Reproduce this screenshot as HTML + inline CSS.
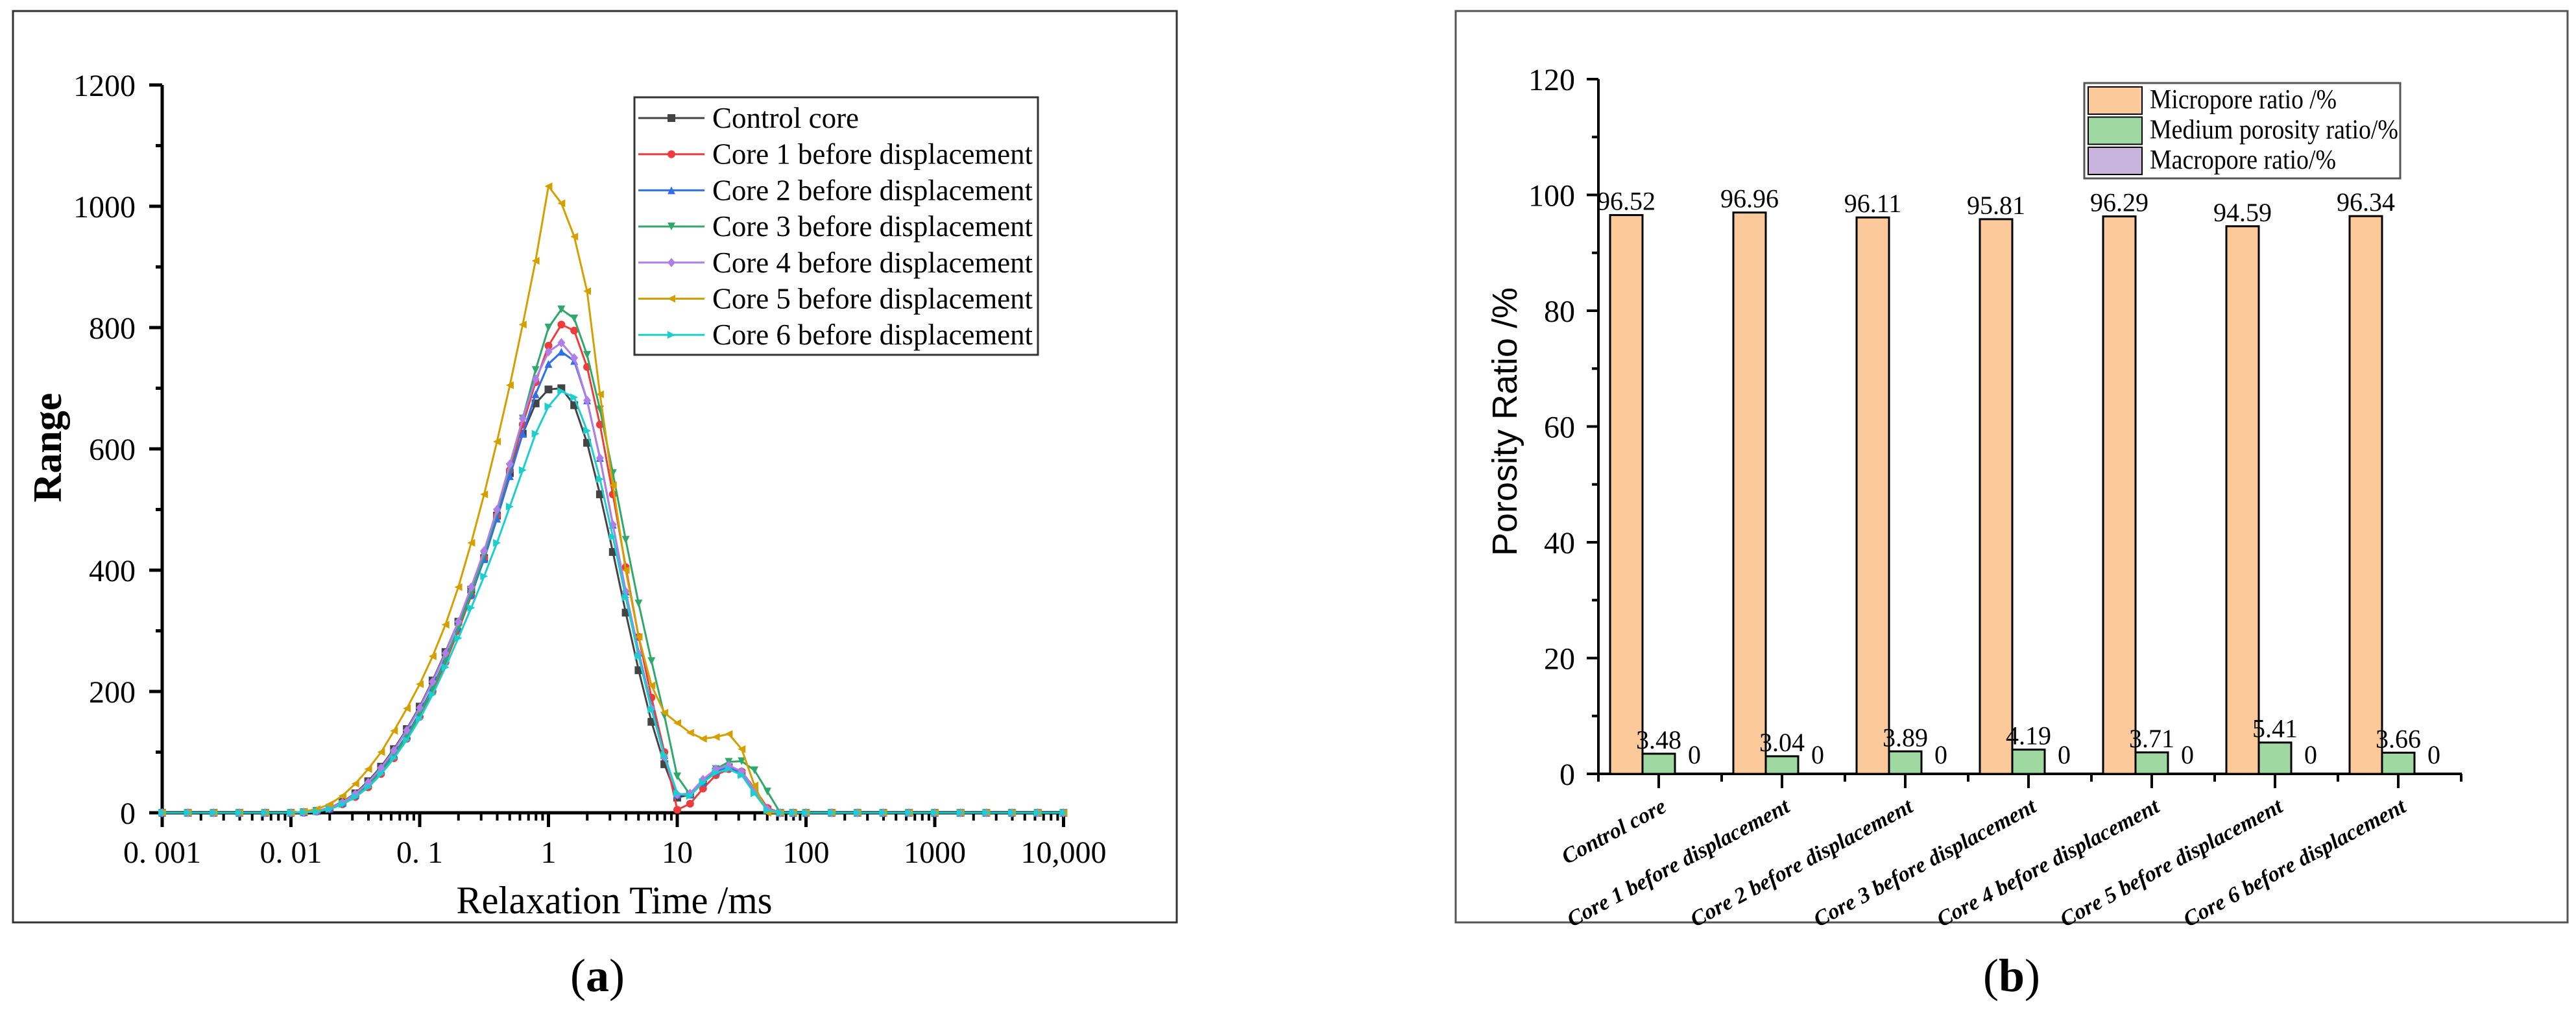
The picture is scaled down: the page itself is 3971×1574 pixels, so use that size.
<!DOCTYPE html>
<html><head><meta charset="utf-8"><style>
html,body{margin:0;padding:0;background:#fff;}
svg{display:block;}
text{font-family:"Liberation Serif",serif;fill:#000;}
</style></head><body>
<svg id="fig" width="3971" height="1574" viewBox="0 0 3971 1574" xmlns="http://www.w3.org/2000/svg">
<rect x="0" y="0" width="3971" height="1574" fill="#fff"/>
<g id="left">
<rect x="20" y="17" width="1794" height="1405" fill="none" stroke="#333" stroke-width="3"/>
<g id="lAxes"></g>
<g id="lSeries"></g>
<g id="lLegend"></g>
<text x="947" y="1408" font-size="60" text-anchor="middle" textLength="487" lengthAdjust="spacingAndGlyphs">Relaxation Time /ms</text>
<text transform="translate(94,690) rotate(-90)" font-size="62" font-weight="bold" text-anchor="middle">Range</text>
<text x="921" y="1528" font-size="72" text-anchor="middle">(<tspan font-weight="bold">a</tspan>)</text>
</g>
<g id="right">
<rect x="2244" y="17" width="1714" height="1405" fill="none" stroke="#555" stroke-width="3"/>
<g id="rAxes"></g>
<g id="rBars"></g>
<g id="rLegend"></g>
<text transform="translate(2338,650) rotate(-90)" font-size="54" text-anchor="middle" style="font-family:'Liberation Sans',sans-serif">Porosity Ratio /%</text>
<text x="3101" y="1528" font-size="72" text-anchor="middle">(<tspan font-weight="bold">b</tspan>)</text>
</g>
</svg>
<script>
// ---------- Left chart data ----------
const logTimes = [-3,-2.8,-2.6,-2.4,-2.2,-2,-1.9,-1.8,-1.7,-1.6,-1.5,-1.4,-1.3,-1.2,-1.1,-1,-0.9,-0.8,-0.7,-0.6,-0.5,-0.4,-0.3,-0.2,-0.1,0,0.1,0.2,0.3,0.4,0.5,0.6,0.7,0.8,0.9,1,1.1,1.2,1.3,1.4,1.5,1.6,1.7,1.8,1.9,2,2.2,2.4,2.6,2.8,3,3.2,3.4,3.6,3.8,4];
const zerosBefore = [0,0,0,0,0];
const zerosAfter = [0,0,0,0,0,0,0,0,0,0];
const controlCore = [0,1,3,8,18,32,52,76,105,138,175,218,265,315,368,420,490,560,625,675,698,700,672,610,525,430,330,235,150,80,25,30,50,68,75,65,35,5,0,0,0];
const core1 = [0,0,2,6,14,26,42,64,90,122,158,200,248,300,358,420,490,565,640,710,770,805,795,735,640,525,405,290,190,100,5,15,40,62,72,68,40,8,0,0,0];
const core2 = [0,1,3,7,16,29,47,70,97,128,165,207,254,305,360,418,485,555,625,690,740,760,745,680,585,475,365,265,175,95,30,30,50,68,75,66,36,6,0,0,0];
const core3 = [0,1,3,7,15,28,45,68,95,126,162,204,252,305,362,425,495,570,650,730,800,830,815,755,665,560,450,345,250,160,60,30,50,72,84,85,70,35,0,0,0];
const core4 = [0,1,3,8,17,31,50,74,103,136,173,216,263,315,372,432,500,575,650,715,760,775,750,680,585,475,365,262,172,92,30,32,55,72,78,68,38,6,0,0,0];
const core5 = [0,2,6,14,28,48,72,100,135,172,212,258,310,372,445,525,612,705,805,910,1033,1005,950,860,690,540,400,290,210,165,148,132,122,125,130,105,45,0,0,0,0];
const core6 = [0,1,2,6,14,26,42,64,90,120,155,195,240,288,338,390,445,505,565,625,670,695,685,630,550,455,355,258,170,95,32,28,50,66,72,62,32,4,0,0,0];
const seriesNames = ["Control core","Core 1 before displacement","Core 2 before displacement","Core 3 before displacement","Core 4 before displacement","Core 5 before displacement","Core 6 before displacement"];
const yTicksL = [0,200,400,600,800,1000,1200];
const xTickLabelsL = ["0. 001","0. 01","0. 1","1","10","100","1000","10,000"];

// ---------- Right chart data ----------
const categories = ["Control core","Core 1 before displacement","Core 2 before displacement","Core 3 before displacement","Core 4 before displacement","Core 5 before displacement","Core 6 before displacement"];
const microRatio = [96.52,96.96,96.11,95.81,96.29,94.59,96.34];
const mediumRatio = [3.48,3.04,3.89,4.19,3.71,5.41,3.66];
const macroRatio = [0,0,0,0,0,0,0];
const barLegend = ["Micropore ratio /%","Medium porosity ratio/%","Macropore ratio/%"];
const yTicksR = [0,20,40,60,80,100,120];

const NS = "http://www.w3.org/2000/svg";
function mk(tag, attrs, parent){const e=document.createElementNS(NS,tag);for(const k in attrs)e.setAttribute(k,attrs[k]);parent.appendChild(e);return e;}

const LX0=250, LDEC=198.5, LY0=1253, LYS=187/200;
const xL = lg => LX0 + (lg+3)*LDEC;
const yL = v => LY0 - v*LYS;
const lAxes=document.getElementById('lAxes');
let ax=mk('line',{x1:250,y1:yL(1200),x2:250,y2:LY0,stroke:'#000','stroke-width':5},lAxes);


ax=mk('line',{x1:250,y1:LY0,x2:xL(4)+6,y2:LY0,stroke:'#000','stroke-width':5},lAxes);


for(let v=0;v<=1200;v+=100){
  const major = yTicksL.includes(v);
  const t=mk('line',{x1:major?230:240,y1:yL(v),x2:250,y2:yL(v),stroke:'#000','stroke-width':5},lAxes);
  
  
}
yTicksL.forEach(v=>{
  const t=mk('text',{x:209,y:yL(v)+17,'font-size':48,'text-anchor':'end'},lAxes);t.textContent=v;
  
  
});
xTickLabelsL.forEach((lab,i)=>{
  const lg=i-3;
  const t=mk('line',{x1:xL(lg),y1:LY0,x2:xL(lg),y2:LY0+22,stroke:'#000','stroke-width':5},lAxes);
  
  
  const tx=mk('text',{x:xL(lg),y:1330,'font-size':48,'text-anchor':'middle'},lAxes);tx.textContent=lab;
  
  
  if(i<7){for(let m=2;m<=9;m++){
    const mx=xL(lg+Math.log10(m));
    const mt=mk('line',{x1:mx,y1:LY0,x2:mx,y2:LY0+12,stroke:'#000','stroke-width':4},lAxes);
    
    
  }}
});

const colors=["#444444","#EE3B3B","#2F6FE8","#2EA86B","#B07EE8","#D4A000","#1CCFCF"];
const shapes=["square","circle","up","down","diamond","left","right"];
const allSeries=[controlCore,core1,core2,core3,core4,core5,core6];
function marker(shape,x,y,r,col,parent){
  let p;
  if(shape==="square") p=mk('rect',{x:x-r,y:y-r,width:2*r,height:2*r,fill:col},parent);
  else if(shape==="circle") p=mk('circle',{cx:x,cy:y,r:r,fill:col},parent);
  else {let pts;
    if(shape==="up") pts=[[x,y-r],[x+r,y+r],[x-r,y+r]];
    else if(shape==="down") pts=[[x,y+r],[x+r,y-r],[x-r,y-r]];
    else if(shape==="diamond") pts=[[x,y-r*1.2],[x+r,y],[x,y+r*1.2],[x-r,y]];
    else if(shape==="left") pts=[[x-r,y],[x+r,y-r],[x+r,y+r]];
    else pts=[[x+r,y],[x-r,y-r],[x-r,y+r]];
    p=mk('polygon',{points:pts.map(q=>q.join(',')).join(' '),fill:col},parent);}
  return p;
}
const lSeries=document.getElementById('lSeries');
allSeries.forEach((s,si)=>{
  const vals=zerosBefore.concat(s,zerosAfter);
  const g=mk('g',{},lSeries);
  
  
  const pts=vals.map((v,i)=>xL(logTimes[i]).toFixed(1)+','+yL(v).toFixed(1)).join(' ');
  const pl=mk('polyline',{points:pts,fill:'none',stroke:colors[si],'stroke-width':3,'stroke-linejoin':'round'},g);
  
  
  vals.forEach((v,i)=>{
    const m=marker(shapes[si],xL(logTimes[i]),yL(v),6,colors[si],g);
    
    
  });
});
const lLeg=document.getElementById('lLegend');
let lb=mk('rect',{x:978,y:150,width:622,height:397,fill:'#fff',stroke:'#333','stroke-width':3},lLeg);


seriesNames.forEach((n,i)=>{
  const y=182+i*55.7;
  const g=mk('g',{},lLeg);
  
  
  mk('line',{x1:984,y1:y,x2:1086,y2:y,stroke:colors[i],'stroke-width':3},g);
  marker(shapes[i],1035,y,6,colors[i],g);
  const t=mk('text',{x:1098,y:y+15,'font-size':46},g);t.textContent=n;
  t.setAttribute('textLength',i>0?494:226);
  t.setAttribute('lengthAdjust','spacingAndGlyphs');
});

// Right chart
const RY0=1193, RYS=(1193-122)/120, RC0=2557, RSP=190;
const yR=v=>RY0-v*RYS;
const xR=i=>RC0+i*RSP;
const rAxes=document.getElementById('rAxes');
ax=mk('line',{x1:2464,y1:yR(120),x2:2464,y2:RY0,stroke:'#000','stroke-width':4},rAxes);


ax=mk('line',{x1:2464,y1:RY0,x2:3795,y2:RY0,stroke:'#000','stroke-width':4},rAxes);


for(let v=0;v<=120;v+=10){
  const major=yTicksR.includes(v);
  const t=mk('line',{x1:major?2446:2454,y1:yR(v),x2:2464,y2:yR(v),stroke:'#000','stroke-width':4},rAxes);
  
  
}
yTicksR.forEach(v=>{
  const t=mk('text',{x:2428,y:yR(v)+17,'font-size':48,'text-anchor':'end'},rAxes);t.textContent=v;
  
  
});
for(let i=0;i<=7;i++){
  const mx=2464+i*RSP;
  const t=mk('line',{x1:mx,y1:RY0,x2:mx,y2:RY0+12,stroke:'#000','stroke-width':4},rAxes);
  
  
}
const barColors=["#FBC99A","#9FD8A0","#C8B4DC"];
const rBars=document.getElementById('rBars');
categories.forEach((c,i)=>{
  const cx=xR(i);
  const t=mk('line',{x1:cx,y1:RY0,x2:cx,y2:RY0+22,stroke:'#000','stroke-width':4},rAxes);
  
  
  const lab=mk('text',{transform:`translate(${cx+14},1250) rotate(-28)`,'font-size':34,'font-weight':'bold','font-style':'italic','text-anchor':'end'},rAxes);
  lab.textContent=c;
  
  
  [microRatio[i],mediumRatio[i],macroRatio[i]].forEach((v,k)=>{
    const bx=cx-75+k*50;
    if(v>0){
      const r=mk('rect',{x:bx,y:yR(v),width:50,height:RY0-yR(v),fill:barColors[k],stroke:'#000','stroke-width':3},rBars);
      
      
    }
    const vt=mk('text',{x:bx+25+(v===0?5:0),y:yR(v)-8-(v===0?8:0),'font-size':40,'text-anchor':'middle'},rBars);
    vt.textContent=v===0?'0':v.toFixed(2);
    
    
  });
});
const rLeg=document.getElementById('rLegend');
lb=mk('rect',{x:3213,y:128,width:487,height:147,fill:'#fff',stroke:'#555','stroke-width':3},rLeg);


barLegend.forEach((n,i)=>{
  const y=134+i*46.5;
  const g=mk('g',{},rLeg);
  
  
  mk('rect',{x:3219,y:y,width:83,height:42,fill:barColors[i],stroke:'#000','stroke-width':2},g);
  const t=mk('text',{x:3314,y:y+33,'font-size':42},g);t.textContent=n;
  t.setAttribute('textLength',[288,383,287][i]);
  t.setAttribute('lengthAdjust','spacingAndGlyphs');
});
</script>
</body></html>
